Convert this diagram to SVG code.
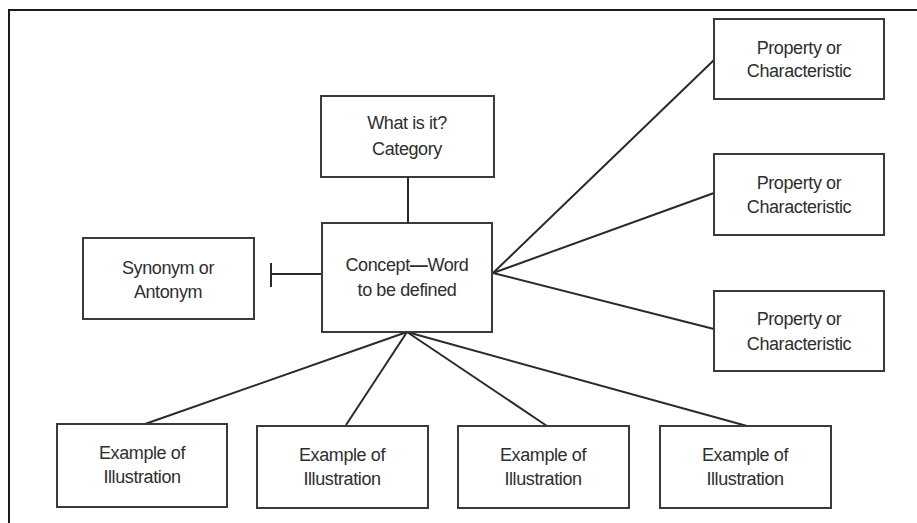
<svg xmlns="http://www.w3.org/2000/svg" width="917" height="523" viewBox="0 0 917 523">
<style>
.box{fill:#fff;stroke:#3a3a3a;stroke-width:2}
.ln{stroke:#2a2a2a;stroke-width:2;fill:none}
text{font-family:"Liberation Sans",Arial,sans-serif;font-size:18px;fill:#2e2e2e;text-anchor:middle;letter-spacing:-0.4px}
</style>
<rect x="0" y="0" width="917" height="523" fill="#fff"/>
<rect x="9" y="10" width="920" height="530" fill="none" stroke="#1a1a1a" stroke-width="2"/>
<g id="connectors">
<line class="ln" x1="408" y1="177" x2="408" y2="223"/>
<line class="ln" x1="322" y1="274" x2="271" y2="274"/>
<line class="ln" x1="271" y1="263" x2="271" y2="287"/>
<line class="ln" x1="493" y1="273" x2="714" y2="60"/>
<line class="ln" x1="493" y1="273" x2="714" y2="193"/>
<line class="ln" x1="493" y1="273" x2="714" y2="329"/>
<line class="ln" x1="407" y1="332" x2="145" y2="424"/>
<line class="ln" x1="407" y1="332" x2="346" y2="425"/>
<line class="ln" x1="407" y1="332" x2="547" y2="426"/>
<line class="ln" x1="407" y1="332" x2="747" y2="426"/>
</g>
<g id="category"><rect class="box" x="321" y="96" width="173" height="81"/><text x="407" y="129">What is it?</text><text x="407" y="155">Category</text></g>
<g id="concept"><rect class="box" x="322" y="223" width="170" height="109"/><text x="407" y="271">Concept<tspan font-weight="bold">—</tspan>Word</text><text x="407" y="296">to be defined</text></g>
<g id="synonym"><rect class="box" x="83" y="238" width="171" height="81"/><text x="168" y="274">Synonym or</text><text x="168" y="298">Antonym</text></g>
<g id="property1"><rect class="box" x="714" y="19" width="170" height="80"/><text x="799" y="54">Property or</text><text x="799" y="77">Characteristic</text></g>
<g id="property2"><rect class="box" x="714" y="154" width="170" height="81"/><text x="799" y="189">Property or</text><text x="799" y="213">Characteristic</text></g>
<g id="property3"><rect class="box" x="714" y="291" width="170" height="80"/><text x="799" y="325">Property or</text><text x="799" y="350">Characteristic</text></g>
<g id="example1"><rect class="box" x="57" y="424" width="170" height="83"/><text x="142" y="459">Example of</text><text x="142" y="483">Illustration</text></g>
<g id="example2"><rect class="box" x="257" y="426" width="171" height="82"/><text x="342" y="461">Example of</text><text x="342" y="485">Illustration</text></g>
<g id="example3"><rect class="box" x="458" y="426" width="171" height="82"/><text x="543" y="461">Example of</text><text x="543" y="485">Illustration</text></g>
<g id="example4"><rect class="box" x="660" y="426" width="171" height="82"/><text x="745" y="461">Example of</text><text x="745" y="485">Illustration</text></g>
</svg>
